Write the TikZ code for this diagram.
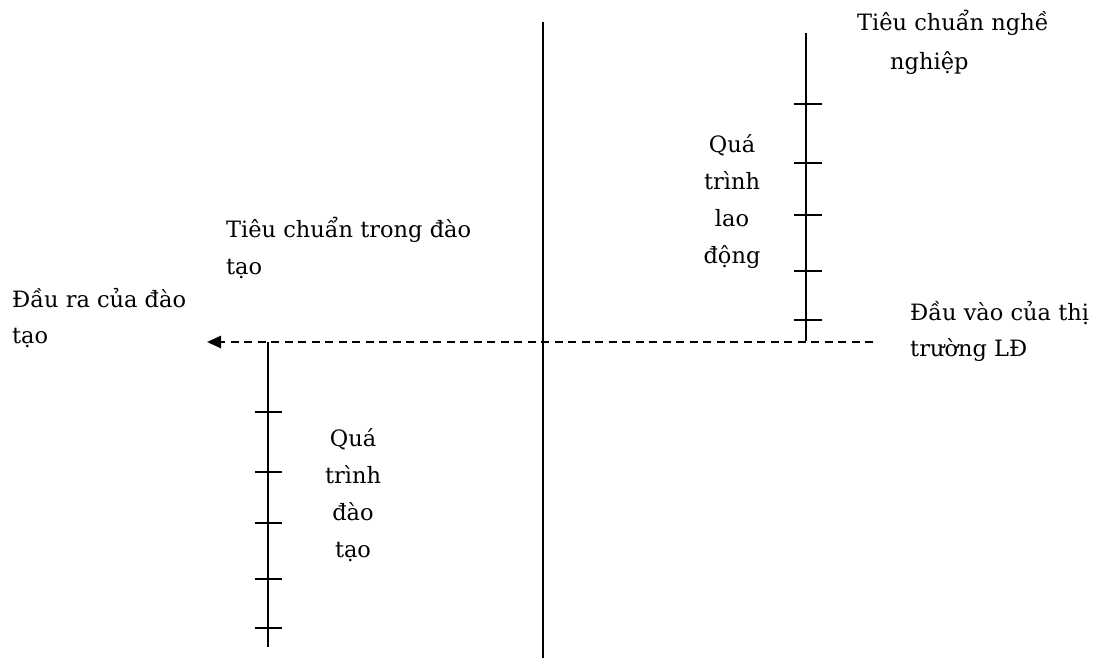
\documentclass[tikz,border=0pt]{standalone}
\usepackage{fontspec}
\setmainfont{DejaVu Serif}
\usetikzlibrary{arrows.meta}
\begin{document}
\begin{tikzpicture}[x=1pt,y=-1pt,
  axis/.style={line width=2.5pt},
  tick/.style={line width=2pt},
  flow/.style={line width=2.5pt,dash pattern=on 8pt off 5.5pt,-{Triangle[length=14pt,width=12pt]}},
  lbl/.style={inner sep=0pt,font=\fontsize{22.5}{37}\selectfont,anchor=base west},
  clbl/.style={inner sep=0pt,font=\fontsize{22.5}{37}\selectfont,anchor=base,align=center}]
\useasboundingbox (0,0) rectangle (1094,658);
% coordinates
\coordinate (ct) at (543,22);
\coordinate (cb) at (543,658);
\coordinate (rt) at (806,33);
\coordinate (rb) at (806,341);
\coordinate (lt) at (268,342);
\coordinate (lb) at (268,647);
\coordinate (dr) at (873,342);
\coordinate (dl) at (207,342);
% lines
\draw[axis] (ct) -- (cb);
\draw[axis] (rt) -- (rb);
\draw[axis] (lt) -- (lb);
\draw[flow] (dr) -- (dl);
\foreach \y in {104,163,215,271,320} \draw[tick] (794,\y) -- (822,\y);
\foreach \y in {412,472,523,579,628} \draw[tick] (255,\y) -- (282,\y);
% texts
\node[lbl] (t1) at (857,31) {Tiêu chuẩn nghề};
\node[lbl] (t1b) at (890,70) {nghiệp};
\node[clbl] (t2) at (732,263) {Quá\\trình\\lao\\động};
\node[lbl] (t3) at (226,237) {Tiêu chuẩn trong đào};
\node[lbl] (t3b) at (226,274) {tạo};
\node[lbl] (t4) at (12,307) {Đầu ra của đào};
\node[lbl] (t4b) at (12,343) {tạo};
\node[lbl] (t5) at (910,320) {Đầu vào của thị};
\node[lbl] (t5b) at (910,356) {trường LĐ};
\node[clbl] (t6) at (353,557) {Quá\\trình\\đào\\tạo};
\end{tikzpicture}
\end{document}
